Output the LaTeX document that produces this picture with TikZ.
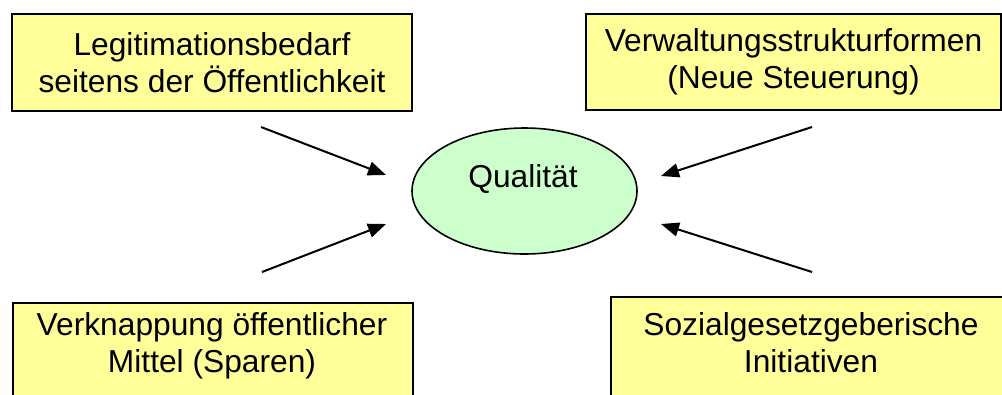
\documentclass[tikz,border=0pt]{standalone}
\usepackage{fontspec}
\setmainfont{Liberation Sans}
\usepackage{tikz}
\usetikzlibrary{arrows.meta,calc,positioning,shapes.geometric}
\definecolor{ink}{HTML}{000000}
\definecolor{butter}{HTML}{FFFF99}
\definecolor{mint}{HTML}{CCFFCC}
\tikzset{
  >={Triangle[length=13.5pt,width=10.5pt]},
  every node/.style={font=\fontsize{23.8pt}{27.75pt}\selectfont},
  box/.style={draw=ink,line width=1.3pt,fill=butter,align=center,minimum width=300pt,inner sep=0pt},
  oval/.style={ellipse,draw=ink,line width=1.2pt,fill=mint,minimum width=168.75pt,minimum height=94.5pt,inner sep=0pt},
  txt/.style={align=center,inner sep=0pt},
  push/.style={->,line width=1.5pt},
}

\begin{document}
\begin{tikzpicture}[x=0.75pt,y=-0.75pt]
  \useasboundingbox (0,0) rectangle (1002,394);
  \node[box,minimum height=72.75pt] (legit) at (212,62.5) {Legitimationsbedarf\\seitens der Öffentlichkeit};
  \node[box,minimum width=311.25pt,minimum height=72pt] (verw) at (793.5,62) {Verwaltungsstrukturformen\\(Neue Steuerung)};
  \node[box,minimum height=82.5pt,anchor=north west] (spar) at (12,302) {};
  \node[txt,anchor=north] (spartxt) at (212,312) {Verknappung öffentlicher\\Mittel (Sparen)};
  \node[box,minimum width=301.5pt,minimum height=82.5pt,anchor=north west] (sozial) at (610,296) {};
  \node[txt,anchor=north] (sozialtxt) at (811,312) {Sozialgesetzgeberische\\Initiativen};
  \node[oval] (qual) at (524.5,191) {};
  \node[anchor=base] (qualtxt) at ($(qual)+(-1.5,-4)$) {Qualität};
  \coordinate (legitEnd) at (261,127);
  \coordinate (verwEnd) at (812,127);
  \coordinate (sparEnd) at (262,272);
  \coordinate (sozialEnd) at (812,272);
  \coordinate (qualNW) at (386,175);
  \coordinate (qualNE) at (661,176);
  \coordinate (qualSW) at (386,224);
  \coordinate (qualSE) at (661,224);
  \draw[push] (legitEnd) -- (qualNW);
  \draw[push] (verwEnd) -- (qualNE);
  \draw[push] (sparEnd) -- (qualSW);
  \draw[push] (sozialEnd) -- (qualSE);
\end{tikzpicture}
\end{document}
